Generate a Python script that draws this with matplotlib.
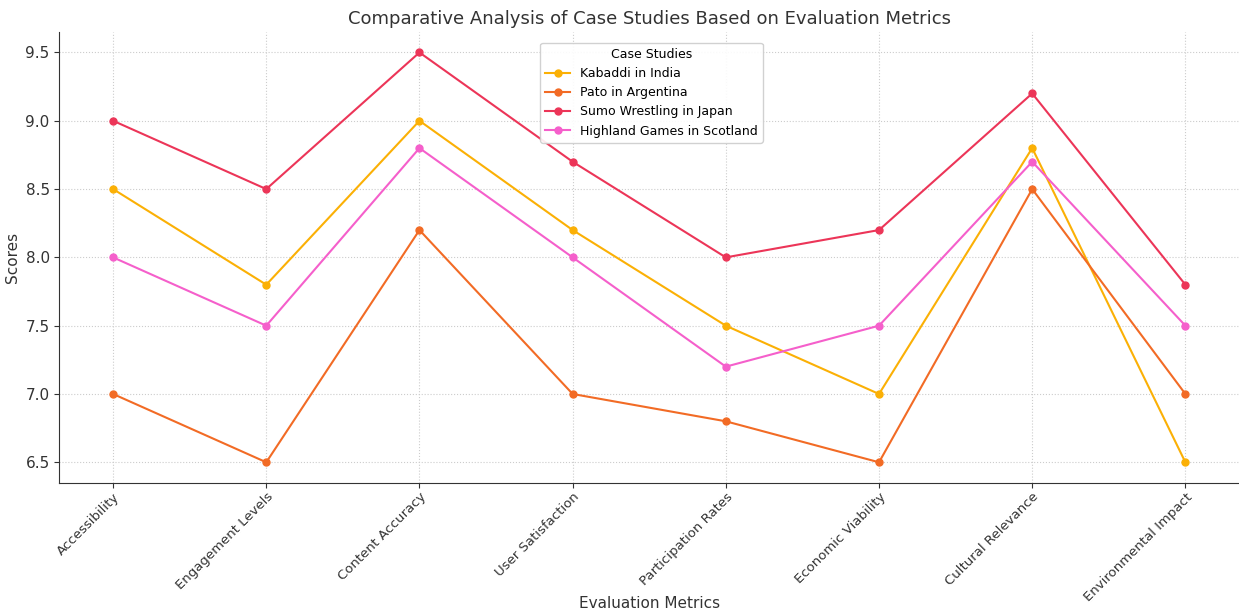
import matplotlib.pyplot as plt

# Evaluation metrics and case-study scores
metrics = ['Accessibility', 'Engagement Levels', 'Content Accuracy', 'User Satisfaction',
           'Participation Rates', 'Economic Viability', 'Cultural Relevance', 'Environmental Impact']
kabaddi = [8.5, 7.8, 9.0, 8.2, 7.5, 7.0, 8.8, 6.5]
pato = [7.0, 6.5, 8.2, 7.0, 6.8, 6.5, 8.5, 7.0]
sumo = [9.0, 8.5, 9.5, 8.7, 8.0, 8.2, 9.2, 7.8]
highland = [8.0, 7.5, 8.8, 8.0, 7.2, 7.5, 8.7, 7.5]

names = ['Kabaddi in India', 'Pato in Argentina', 'Sumo Wrestling in Japan', 'Highland Games in Scotland']
colors = ['#FBB005', '#F26B25', '#EC3558', '#F55FCB']

fig, ax = plt.subplots(figsize=(12.39, 6.15), dpi=100)
fig.subplots_adjust(left=0.048, right=1.0, top=0.948, bottom=0.215)

for vals, name, c in zip([kabaddi, pato, sumo, highland], names, colors):
    ax.plot(metrics, vals, marker='o', markersize=5, linewidth=1.5, color=c, label=name)

ax.set_title('Comparative Analysis of Case Studies Based on Evaluation Metrics', fontsize=13, color='#333333')
ax.set_xlabel('Evaluation Metrics', fontsize=11, color='#333333', va='center')
ax.xaxis.set_label_coords(0.5, -0.268)
ax.set_ylabel('Scores', fontsize=11, color='#333333')
plt.setp(ax.get_xticklabels(), rotation=45, ha='right', rotation_mode='anchor')
ax.tick_params(labelsize=9.5, colors='#333333')
ax.tick_params(axis='x', pad=2)
ax.tick_params(axis='y', labelsize=11)

ax.grid(True, linestyle=':', color='#cccccc', linewidth=0.8)
ax.spines['top'].set_visible(False)
ax.spines['right'].set_visible(False)
for s in ['left', 'bottom']:
    ax.spines[s].set_color('#333333')

leg = ax.legend(title='Case Studies', loc='upper center', bbox_to_anchor=(0.502, 0.99), fontsize=9,
                title_fontsize=9, framealpha=0.9, edgecolor='#cccccc')

plt.savefig('out.png')
